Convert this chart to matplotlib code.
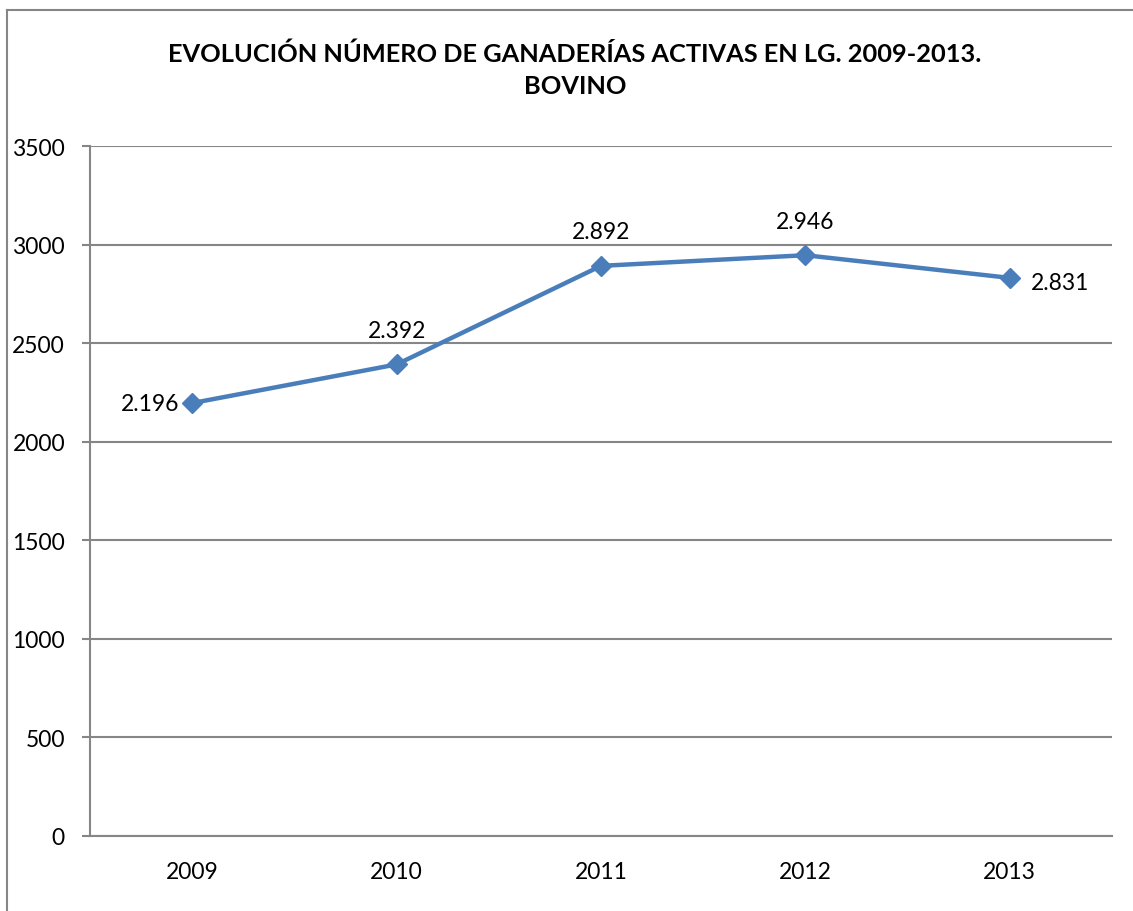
import matplotlib
matplotlib.use('Agg')
import matplotlib.pyplot as plt
from matplotlib.lines import Line2D

plt.rcParams['font.family'] = ['Lato', 'DejaVu Sans']

years = ['2009', '2010', '2011', '2012', '2013']
ganaderias = [2196, 2392, 2892, 2946, 2831]
label_pos = ['left', 'above', 'above', 'above', 'right']
yticks = [0, 500, 1000, 1500, 2000, 2500, 3000, 3500]

fig = plt.figure(figsize=(11.33, 9.12), dpi=100)
ax = fig.add_axes([90/1133, 1-837/912, (1112-90)/1133, (837-147)/912])

gray = '#868686'
x = list(range(len(years)))
ax.plot(x, ganaderias, color='#4A7EBB', lw=3.2, marker='D', markersize=10,
        markerfacecolor='#4A7EBB', markeredgecolor='#4A7EBB', zorder=3)

for xi, v, pos in zip(x, ganaderias, label_pos):
    txt = f'{v:,}'.replace(',', '.')
    if pos == 'left':
        ax.annotate(txt, (xi, v), xytext=(-9, 0), textcoords='offset points',
                    ha='right', va='center', fontsize=16.5)
    elif pos == 'right':
        ax.annotate(txt, (xi, v), xytext=(15, -3), textcoords='offset points',
                    ha='left', va='center', fontsize=16.5)
    else:
        ax.annotate(txt, (xi, v), xytext=(0, 17), textcoords='offset points',
                    ha='center', va='bottom', fontsize=16.5)

ax.set_xlim(-0.5, len(years) - 0.5)
ax.set_ylim(0, 3500)
ax.set_yticks(yticks)
ax.set_yticklabels([str(t) for t in yticks], fontsize=16.5)
ax.set_xticks(x)
ax.set_xticklabels(years, fontsize=16.5)
ax.tick_params(axis='x', length=0, pad=18)
ax.tick_params(axis='y', length=6, width=1.5, color=gray, pad=12)
ax.grid(axis='y', color=gray, lw=1.5)
ax.set_axisbelow(True)
for s in ['top', 'right']:
    ax.spines[s].set_visible(False)
for s in ['left', 'bottom']:
    ax.spines[s].set_color(gray)
    ax.spines[s].set_linewidth(1.5)

fig.text(575/1133, 1-70/912, 'EVOLUCIÓN NÚMERO DE GANADERÍAS ACTIVAS EN LG. 2009-2013.\nBOVINO',
         ha='center', va='center', fontsize=18.3, fontweight='bold', linespacing=1.5)

# chart border (only left and top edges visible)
fig.add_artist(Line2D([7/1133, 7/1133], [0, 1-11/912], transform=fig.transFigure, color=gray, lw=1.5))
fig.add_artist(Line2D([7/1133, 1], [1-11/912, 1-11/912], transform=fig.transFigure, color=gray, lw=1.5))

fig.savefig('out.png', dpi=100)
